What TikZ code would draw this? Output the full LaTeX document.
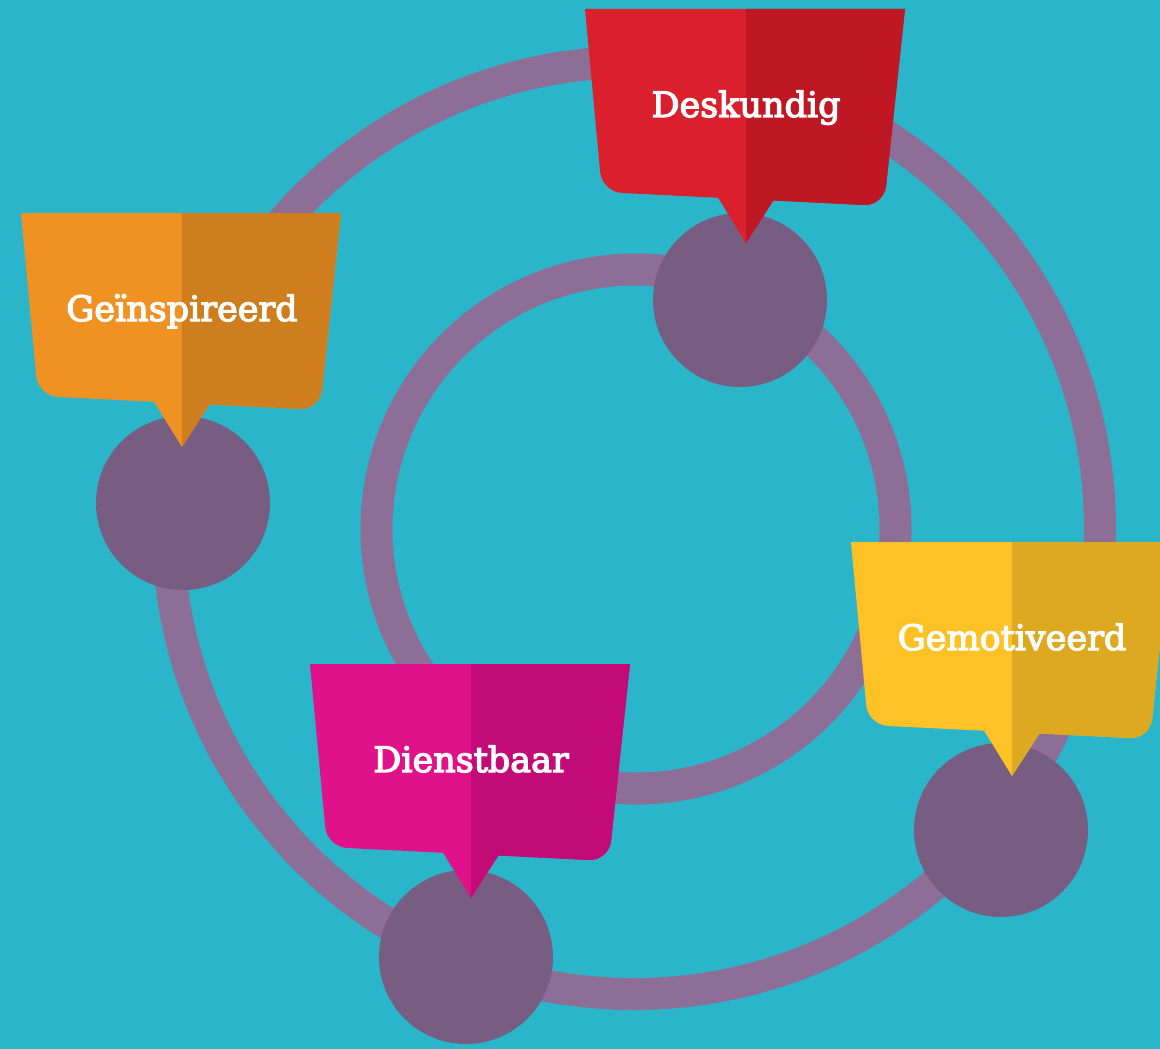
\documentclass[tikz,border=0pt]{standalone}
\usepackage{fontspec}
\setmainfont{DejaVu Serif}[FakeBold=3.5]
\definecolor{bgc}{HTML}{2BB5CB}
\definecolor{ringc}{HTML}{8C6E96}
\definecolor{dotc}{HTML}{775D82}
\definecolor{redL}{HTML}{DA1F2D}
\definecolor{redR}{HTML}{BF1824}
\definecolor{orL}{HTML}{EF9223}
\definecolor{orR}{HTML}{CE7E1D}
\definecolor{yeL}{HTML}{FEC227}
\definecolor{yeR}{HTML}{DCA921}
\definecolor{piL}{HTML}{E0128A}
\definecolor{piR}{HTML}{C20B76}
\tikzset{
  ringline/.style={draw=ringc, line width=32pt},
  bigdot/.style={circle, fill=dotc, minimum size=174pt, inner sep=0pt},
  calloutshape/.style={insert path={(0,0) -- (320,0) -- (301.1,177.1) .. controls (299.9,188.1) and (290.0,196.6) .. (279,196) -- (37,184) .. controls (26.0,183.45) and (16.2,174.1) .. (15.2,163.1) -- cycle (132,187) -- (190,189) -- (161,234) -- cycle}},
  calloutlabel/.style={text=white, anchor=base, inner sep=0pt, font=\fontsize{35}{40}\selectfont}
}
\newcommand\mycallout[6]{%
  \begin{scope}[shift={(#2,#3)}]
    \path[fill=#4, calloutshape];
    \begin{scope}
      \clip (161,-5) rectangle (360,250);
      \path[fill=#5, calloutshape];
    \end{scope}
    \node[calloutlabel] (#1) at (161,108) {#6};
  \end{scope}}
\begin{document}
\begin{tikzpicture}[x=1pt,y=-1pt]
\fill[bgc] (0,0) rectangle (1160,1049);
\useasboundingbox (0,0) rectangle (1160,1049);
\clip (0,0) rectangle (1160,1049);
% rings
\draw[ringline] (634,528) circle[radius=466pt];
\draw[ringline] (636,529) circle[radius=259.5pt];
% dots
\node[bigdot] (dotA) at (740,300) {};
\node[bigdot] (dotB) at (183,503) {};
\node[bigdot] (dotC) at (1001,830) {};
\node[bigdot] (dotD) at (466,957) {};
% callouts
\mycallout{deskundig}{585}{9}{redL}{redR}{Deskundig}
\mycallout{geinspireerd}{21}{213}{orL}{orR}{Geïnspireerd}
\mycallout{gemotiveerd}{851}{542}{yeL}{yeR}{Gemotiveerd}
\mycallout{dienstbaar}{310}{664}{piL}{piR}{Dienstbaar}
\end{tikzpicture}
\end{document}
